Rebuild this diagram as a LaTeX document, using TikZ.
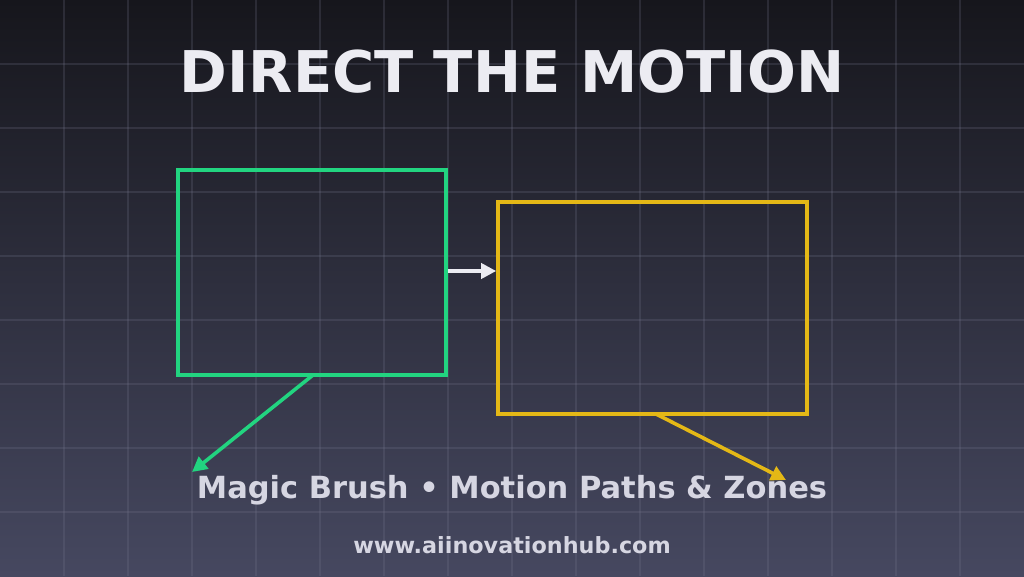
\documentclass[tikz,border=0pt]{standalone}
\usepackage{fontspec}
\setmainfont{DejaVu Sans}
\usetikzlibrary{arrows.meta}
\definecolor{bgtop}{RGB}{22,22,28}
\definecolor{bgbot}{RGB}{70,72,96}
\definecolor{gridc}{RGB}{120,122,145}
\definecolor{brushgreen}{RGB}{34,212,128}
\definecolor{zoneyellow}{RGB}{228,184,22}
\definecolor{txtc}{RGB}{236,236,242}
\definecolor{subc}{RGB}{214,214,226}
\tikzset{
  frame/.style={draw, line width=3.6pt, inner sep=0pt, anchor=north west},
  conn/.style={line width=3.6pt, -{Triangle[length=15pt,width=15pt]}},
  gridline/.style={draw=gridc, opacity=0.22, line width=1.4pt},
}
\begin{document}
\begin{tikzpicture}[x=1pt,y=-1pt]
\useasboundingbox (0,0) rectangle (1024,576);
\shade[top color=bgtop, bottom color=bgbot] (0,0) rectangle (1024,576);
\foreach \gx in {64,128,...,960} \draw[gridline] (\gx,0) -- (\gx,576);
\foreach \gy in {64,128,...,512} \draw[gridline] (0,\gy) -- (1024,\gy);
\node[font=\bfseries\fontsize{57.5}{57.5}\selectfont, text=txtc] (title) at (512,72) {DIRECT THE MOTION};
\node[frame, draw=brushgreen, minimum width=268pt, minimum height=205pt] (brush) at (176.2,168.2) {};
\node[frame, draw=zoneyellow, minimum width=309pt, minimum height=212pt] (zone) at (496.2,200.2) {};
\coordinate (gend) at (192,472);
\coordinate (yend) at (786,480);
\draw[conn, draw=txtc, fill=txtc] (brush.east |- 0,271) -- (zone.west |- 0,271);
\draw[conn, draw=brushgreen] (313,375) -- (gend);
\draw[conn, draw=zoneyellow] (656,414) -- (yend);
\node[font=\bfseries\fontsize{30.5}{30.5}\selectfont, text=subc] (caption) at (512,490) {Magic Brush • Motion Paths \& Zones};
\node[font=\bfseries\fontsize{22.3}{22.3}\selectfont, text=subc] (url) at (512,545) {www.aiinovationhub.com};
\end{tikzpicture}
\end{document}
